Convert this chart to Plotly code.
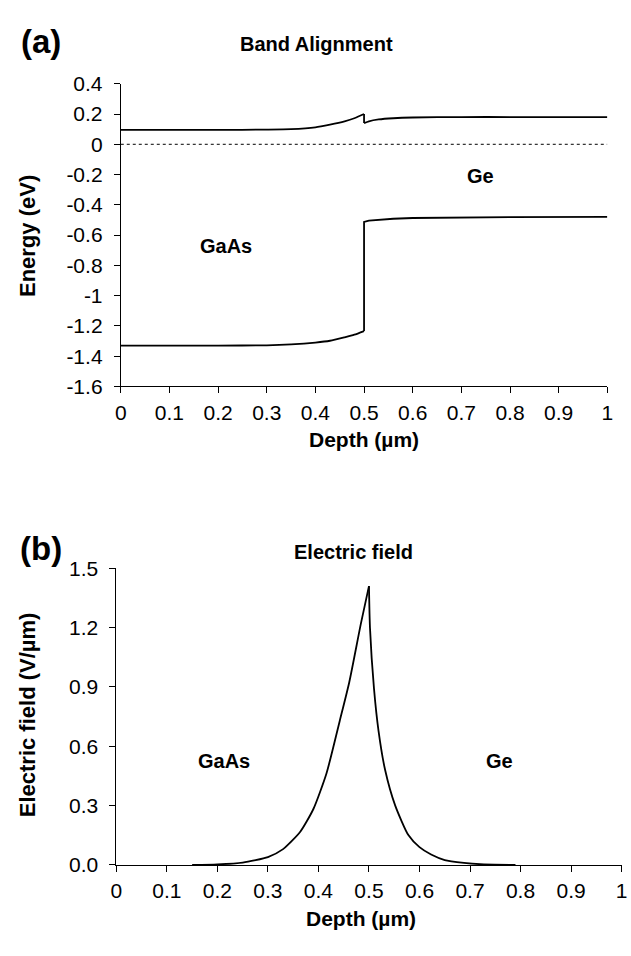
import plotly.graph_objects as go

# ---- Data ----
depth_cb_left = [0.0, 0.1, 0.2, 0.3, 0.35, 0.4, 0.43, 0.46, 0.48, 0.5]
energy_cb_left = [0.095, 0.095, 0.095, 0.097, 0.1, 0.112, 0.13, 0.152, 0.172, 0.2]
depth_cb_right = [0.5, 0.51, 0.53, 0.56, 0.6, 0.7, 0.8, 1.0]
energy_cb_right = [0.14, 0.152, 0.164, 0.172, 0.177, 0.18, 0.18, 0.18]

depth_vb_left = [0.0, 0.1, 0.2, 0.3, 0.35, 0.4, 0.43, 0.46, 0.48, 0.5]
energy_vb_left = [-1.33, -1.33, -1.33, -1.328, -1.322, -1.31, -1.298, -1.275, -1.258, -1.234]
depth_vb_right = [0.5, 0.5, 0.51, 0.53, 0.56, 0.6, 0.7, 0.8, 1.0]
energy_vb_right = [-1.234, -0.513, -0.505, -0.498, -0.492, -0.487, -0.483, -0.481, -0.48]

depth_ref = [0.0, 1.0]
energy_ref = [0.0, 0.0]

depth_ef_left = [0.15, 0.2, 0.25, 0.3, 0.33, 0.364, 0.39, 0.416, 0.442, 0.461, 0.484, 0.5]
field_ef_left = [0.0, 0.003, 0.012, 0.04, 0.08, 0.168, 0.283, 0.464, 0.727, 0.924, 1.22, 1.41]
depth_ef_right = [0.5, 0.502, 0.51, 0.519, 0.532, 0.552, 0.578, 0.6, 0.623, 0.65, 0.688, 0.72, 0.79]
field_ef_right = [1.41, 1.2, 0.89, 0.677, 0.48, 0.3, 0.151, 0.09, 0.053, 0.025, 0.011, 0.004, 0.0]

x_ticks = [0, 0.1, 0.2, 0.3, 0.4, 0.5, 0.6, 0.7, 0.8, 0.9, 1]
x_ticktext = ["0", "0.1", "0.2", "0.3", "0.4", "0.5", "0.6", "0.7", "0.8", "0.9", "1"]
e_ticks = [0.4, 0.2, 0, -0.2, -0.4, -0.6, -0.8, -1, -1.2, -1.4, -1.6]
e_ticktext = ["0.4", "0.2", "0", "-0.2", "-0.4", "-0.6", "-0.8", "-1", "-1.2", "-1.4", "-1.6"]
f_ticks = [0.0, 0.3, 0.6, 0.9, 1.2, 1.5]
f_ticktext = ["0.0", "0.3", "0.6", "0.9", "1.2", "1.5"]

W, H = 631, 956
FONT = "Liberation Sans, Arial, sans-serif"

fig = go.Figure()
line = dict(color="black", width=1.8, shape="spline", smoothing=0.6)
fig.add_trace(go.Scatter(x=depth_cb_left, y=energy_cb_left, mode="lines", line=line, xaxis="x", yaxis="y"))
fig.add_trace(go.Scatter(x=[depth_cb_left[-1], depth_cb_right[0]], y=[energy_cb_left[-1], energy_cb_right[0]],
                         mode="lines", line=dict(color="black", width=1.8), xaxis="x", yaxis="y"))
fig.add_trace(go.Scatter(x=depth_cb_right, y=energy_cb_right, mode="lines", line=line, xaxis="x", yaxis="y"))
fig.add_trace(go.Scatter(x=depth_vb_left, y=energy_vb_left, mode="lines", line=line, xaxis="x", yaxis="y"))
fig.add_trace(go.Scatter(x=depth_vb_right, y=energy_vb_right, mode="lines", line=dict(color="black", width=1.8),
                         xaxis="x", yaxis="y"))
fig.add_trace(go.Scatter(x=depth_ref, y=energy_ref, mode="lines", line=dict(color="black", width=1, dash="dot"),
                         xaxis="x", yaxis="y"))
fig.add_trace(go.Scatter(x=depth_ef_left, y=field_ef_left, mode="lines", line=line, xaxis="x2", yaxis="y2"))
fig.add_trace(go.Scatter(x=depth_ef_right, y=field_ef_right, mode="lines", line=line, xaxis="x2", yaxis="y2"))

axis_common = dict(showline=True, linecolor="black", linewidth=1, ticks="outside", ticklen=6,
                   tickcolor="black", showgrid=False, zeroline=False,
                   tickfont=dict(family=FONT, size=21, color="black"))

fig.update_layout(
    width=W, height=H, margin=dict(l=0, r=0, t=0, b=0),
    paper_bgcolor="white", plot_bgcolor="white", showlegend=False,
    xaxis=dict(domain=[117 / W, 613 / W], range=[0, 1], anchor="y", ticklabelstandoff=1,
               tickvals=x_ticks, ticktext=x_ticktext, **axis_common),
    yaxis=dict(domain=[1 - 383.7 / H, 1 - 73.5 / H], range=[-1.6, 0.4], anchor="x", ticklabelstandoff=7,
               tickvals=e_ticks, ticktext=e_ticktext, **axis_common),
    xaxis2=dict(domain=[112.5 / W, 627.5 / W], range=[0, 1], anchor="y2", ticklabelstandoff=1,
                tickvals=x_ticks, ticktext=x_ticktext, **axis_common),
    yaxis2=dict(domain=[1 - 874 / H, 1 - 570 / H], range=[0, 1.5], anchor="x2", ticklabelstandoff=7,
                tickvals=f_ticks, ticktext=f_ticktext, **axis_common),
)

def ann(text, x, y, size, bold=True, angle=0):
    fig.add_annotation(text=f"<b>{text}</b>" if bold else text, x=x / W, y=1 - y / H,
                       xref="paper", yref="paper", showarrow=False, textangle=angle,
                       xanchor="center", yanchor="middle",
                       font=dict(family=FONT, size=size, color="black"))

ann("(a)", 36, 30, 33)
ann("Band Alignment", 317, 33, 20)
ann("Energy (eV)", 22, 230, 22, angle=-90)
ann("Depth (µm)", 365, 438, 21)
ann("GaAs", 224, 240, 20)
ann("Ge", 484, 168, 20)

ann("(b)", 36, 550, 33)
ann("Electric field", 354, 553, 20)
ann("Electric field (V/µm)", 22, 720, 22, angle=-90)
ann("Depth (µm)", 362, 929, 21)
ann("GaAs", 222, 767, 20)
ann("Ge", 503, 767, 20)

fig.write_html("out.html")
